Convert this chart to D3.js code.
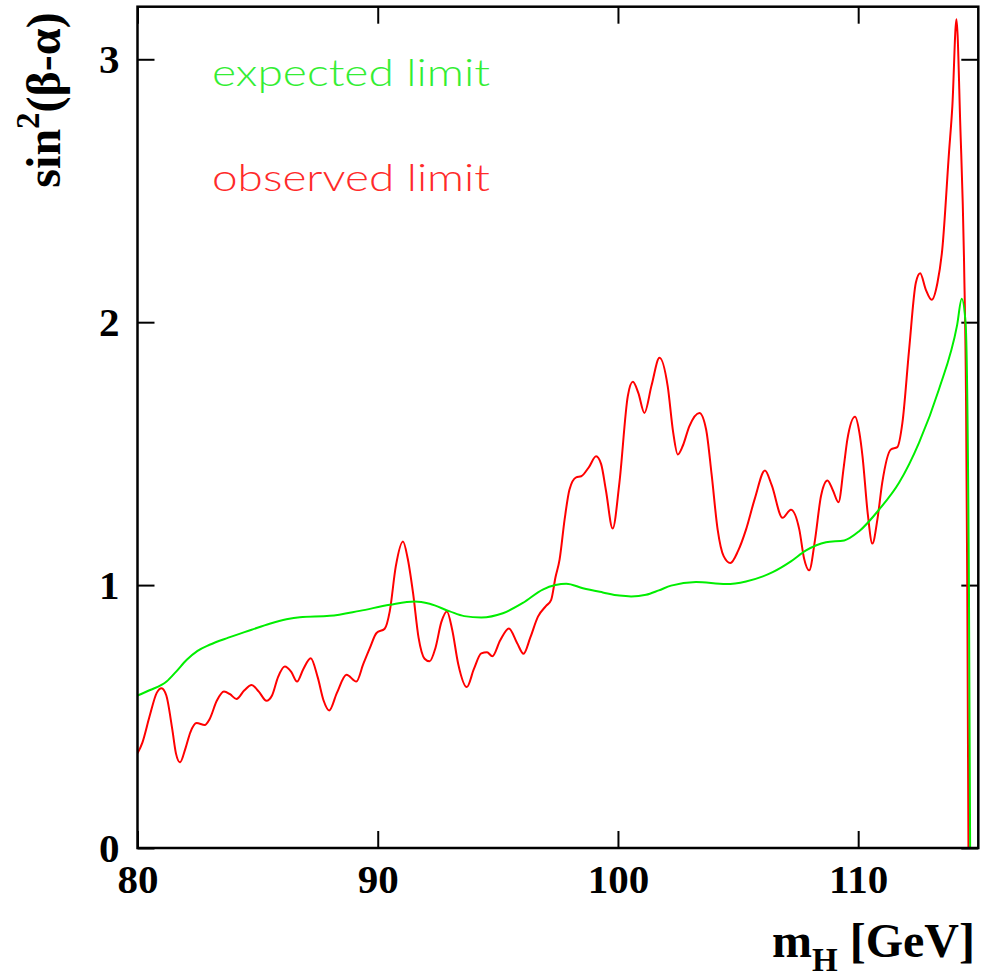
<!DOCTYPE html>
<html>
<head>
<meta charset="utf-8">
<script src="https://cdn.jsdelivr.net/npm/d3@7"></script>
<style>
  html, body { margin: 0; padding: 0; background: #fff; }
  svg { display: block; }
</style>
</head>
<body>
<svg id="chart" width="981" height="980"></svg>
<script>
// ---- data ----
const xTicks = [80, 90, 100, 110];
const yTicks = [0, 1, 2, 3];

const observedMass = [80.0, 80.2, 80.5, 80.8, 81.0, 81.2, 81.45, 81.6, 81.77, 82.0, 82.2, 82.46, 82.8, 83.0, 83.3, 83.6, 83.85, 84.12, 84.45, 84.75, 85.05, 85.37, 85.6, 85.85, 86.13, 86.4, 86.64, 86.9, 87.21, 87.5, 87.75, 87.98, 88.3, 88.7, 89.11, 89.4, 89.67, 89.95, 90.29, 90.5, 90.75, 91.05, 91.25, 91.47, 91.7, 91.95, 92.16, 92.4, 92.65, 92.88, 93.1, 93.35, 93.71, 94.0, 94.31, 94.55, 94.77, 95.1, 95.46, 95.8, 96.07, 96.35, 96.67, 97.0, 97.22, 97.4, 97.57, 97.78, 97.98, 98.26, 98.47, 98.8, 99.09, 99.3, 99.5, 99.78, 100.06, 100.41, 100.62, 100.85, 101.1, 101.4, 101.73, 102.07, 102.3, 102.49, 102.7, 102.97, 103.39, 103.67, 103.9, 104.15, 104.4, 104.68, 105.0, 105.33, 105.7, 106.12, 106.4, 106.85, 107.2, 107.55, 107.75, 107.96, 108.2, 108.45, 108.72, 108.95, 109.18, 109.4, 109.55, 109.87, 110.05, 110.18, 110.4, 110.59, 110.8, 111.0, 111.36, 111.63, 111.84, 112.12, 112.4, 112.58, 112.81, 113.06, 113.3, 113.5, 113.78, 113.92, 114.09, 114.25, 114.41, 114.49, 114.54, 114.59];
const observedLimit = [0.36, 0.40, 0.50, 0.59, 0.608, 0.58, 0.45, 0.36, 0.326, 0.38, 0.44, 0.475, 0.468, 0.49, 0.56, 0.595, 0.585, 0.567, 0.60, 0.62, 0.595, 0.56, 0.58, 0.65, 0.69, 0.67, 0.633, 0.68, 0.722, 0.65, 0.56, 0.523, 0.59, 0.659, 0.633, 0.70, 0.76, 0.818, 0.834, 0.90, 1.07, 1.166, 1.10, 0.97, 0.80, 0.72, 0.71, 0.76, 0.86, 0.90, 0.83, 0.70, 0.612, 0.68, 0.74, 0.745, 0.729, 0.79, 0.835, 0.78, 0.739, 0.80, 0.88, 0.92, 0.944, 1.03, 1.097, 1.25, 1.363, 1.41, 1.414, 1.45, 1.49, 1.46, 1.36, 1.215, 1.389, 1.719, 1.773, 1.73, 1.655, 1.76, 1.865, 1.757, 1.58, 1.497, 1.53, 1.604, 1.655, 1.592, 1.42, 1.211, 1.11, 1.084, 1.13, 1.211, 1.33, 1.436, 1.38, 1.256, 1.287, 1.211, 1.10, 1.056, 1.17, 1.338, 1.398, 1.36, 1.315, 1.45, 1.554, 1.64, 1.58, 1.49, 1.27, 1.158, 1.25, 1.389, 1.516, 1.525, 1.617, 1.896, 2.15, 2.186, 2.125, 2.085, 2.15, 2.277, 2.645, 2.822, 3.152, 2.75, 2.213, 1.70, 1.0, 0.0];

const expectedMass = [80.0, 80.5, 81.21, 81.6, 82.05, 82.5, 83.0, 83.78, 84.75, 85.5, 86.2, 86.76, 88.0, 89.25, 90.5, 91.54, 92.16, 93.0, 93.6, 94.31, 95.21, 96.04, 96.87, 97.4, 97.85, 98.54, 99.37, 100.06, 100.55, 101.17, 101.7, 102.21, 103.25, 104.5, 105.33, 106.44, 107.2, 107.83, 108.66, 109.42, 110.04, 110.87, 111.7, 112.53, 113.36, 114.12, 114.31, 114.47, 114.61, 114.66];
const expectedLimit = [0.58, 0.60, 0.633, 0.67, 0.716, 0.75, 0.773, 0.80, 0.83, 0.853, 0.87, 0.878, 0.883, 0.902, 0.925, 0.938, 0.929, 0.90, 0.882, 0.877, 0.893, 0.932, 0.983, 1.0, 1.005, 0.988, 0.972, 0.96, 0.957, 0.963, 0.98, 0.998, 1.012, 1.004, 1.014, 1.049, 1.09, 1.132, 1.163, 1.17, 1.205, 1.287, 1.389, 1.541, 1.744, 1.99, 2.089, 1.998, 1.0, 0.0];

const legendLabels = ["expected limit", "observed limit"];

// ---- layout ----
const svg = d3.select("#chart");
const L = 137.5, R = 978.3, T = 6.7, B = 848;
const x = d3.scaleLinear().domain([80, 115]).range([L, R]);
const y = d3.scaleLinear().domain([0, 3.2]).range([B, T]);

const tickLen = 17;
const serif = "'Liberation Serif', 'Times New Roman', Times, serif";

// axes
const gB = svg.append("g").attr("transform", `translate(0,${B})`)
  .call(d3.axisBottom(x).tickValues(xTicks).tickSize(-tickLen).tickSizeOuter(0).tickPadding(16).tickFormat(d3.format("d")));
const gT = svg.append("g").attr("transform", `translate(0,${T})`)
  .call(d3.axisTop(x).tickValues(xTicks).tickSize(-tickLen).tickSizeOuter(0).tickFormat(""));
const gL = svg.append("g").attr("transform", `translate(${L},0)`)
  .call(d3.axisLeft(y).tickValues(yTicks).tickSize(-tickLen).tickSizeOuter(0).tickPadding(18).tickFormat(d3.format("d")));
const gR = svg.append("g").attr("transform", `translate(${R},0)`)
  .call(d3.axisRight(y).tickValues(yTicks).tickSize(-tickLen).tickSizeOuter(0).tickFormat(""));

[gB, gT, gL, gR].forEach(g => {
  g.select(".domain").remove();
  g.selectAll(".tick line").attr("stroke", "#000").attr("stroke-width", 2);
  g.selectAll(".tick text").attr("fill", "#000")
    .style("font-family", serif).style("font-weight", "bold").style("font-size", "41px");
});
gB.selectAll(".tick text").attr("dy", "0.71em");

// clip
svg.append("clipPath").attr("id", "clip").append("rect")
  .attr("x", L).attr("y", T).attr("width", R - L).attr("height", B - T);

const line = d3.line().x(d => x(d[0])).y(d => y(d[1])).curve(d3.curveMonotoneX);

const obs = observedMass.map((m, i) => [m, observedLimit[i]]);
const exp = expectedMass.map((m, i) => [m, expectedLimit[i]]);

const plot = svg.append("g").attr("clip-path", "url(#clip)");
plot.append("path").datum(obs).attr("d", line)
  .attr("fill", "none").attr("stroke", "#ff0000").attr("stroke-width", 2);
plot.append("path").datum(exp).attr("d", line)
  .attr("fill", "none").attr("stroke", "#00ee00").attr("stroke-width", 2);

// frame
svg.append("rect").attr("x", L).attr("y", T).attr("width", R - L).attr("height", B - T)
  .attr("fill", "none").attr("stroke", "#000").attr("stroke-width", 2.5);

// legend text
const legendColors = ["#33ee33", "#ff2a2a"];
const legendY = [86, 191];
legendLabels.forEach((t, i) => {
  svg.append("text").attr("x", 212).attr("y", legendY[i])
    .attr("fill", legendColors[i])
    .attr("textLength", 278).attr("lengthAdjust", "spacingAndGlyphs")
    .style("font-family", "Lato, 'Noto Sans', sans-serif")
    .style("font-weight", 300).style("font-size", "38px")
    .text(t);
});

// axis titles
const xt = svg.append("text").attr("x", 975).attr("y", 957).attr("text-anchor", "end")
  .style("font-family", serif).style("font-weight", "bold").style("font-size", "48px").attr("fill", "#000");
xt.append("tspan").text("m");
xt.append("tspan").attr("dy", 14).style("font-size", "33px").text("H");
xt.append("tspan").attr("dy", -14).text(" [GeV]");

const yt = svg.append("text").attr("transform", "translate(60,100) rotate(-90)").attr("text-anchor", "middle")
  .style("font-family", serif).style("font-weight", "bold").style("font-size", "48px").attr("fill", "#000");
yt.append("tspan").text("sin");
yt.append("tspan").attr("dy", -21).style("font-size", "33px").text("2");
yt.append("tspan").attr("dy", 21).text("(β-α)");
</script>
</body>
</html>
